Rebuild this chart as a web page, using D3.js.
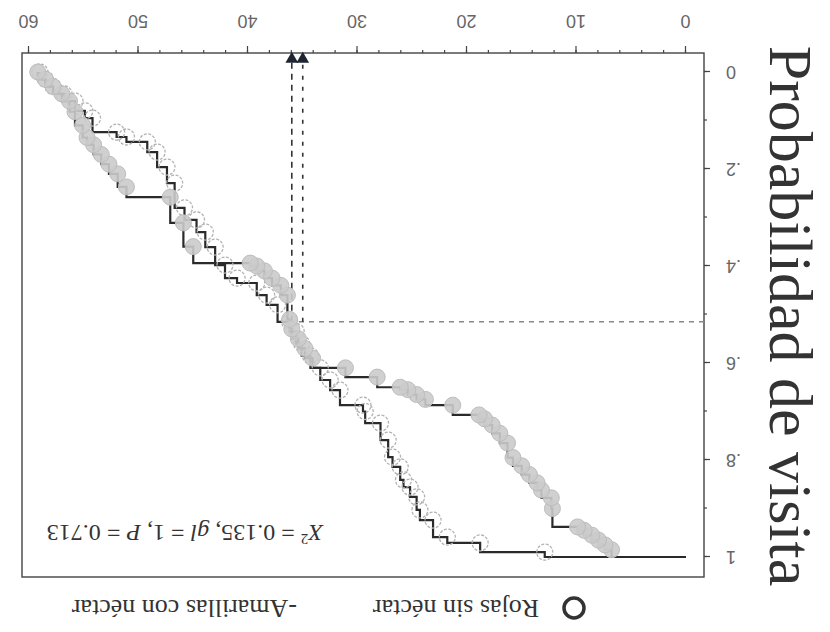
<!DOCTYPE html>
<html>
<head>
<meta charset="utf-8">
<script src="https://cdn.jsdelivr.net/npm/d3@7"></script>
<style>
  body { margin: 0; background: #fff; }
</style>
</head>
<body>
<script>
const xTicks = [0, 10, 20, 30, 40, 50, 60];
const yTicks = [0, 0.2, 0.4, 0.6, 0.8, 1];
const yTickLabels = ["0", ".2", ".4", ".6", ".8", "1"];

const amarillasTime = [6.8, 7.4, 8.0, 8.6, 9.3, 9.9, 12.2, 12.3, 13.2, 13.6, 14.3, 15.0, 15.8, 16.3, 17.0, 17.7, 18.4, 18.9,
  21.3, 23.8, 24.6, 25.4, 26.1, 28.2, 31.1, 34.1, 34.8, 35.4, 36.0, 36.2, 36.4, 37.0, 37.8, 38.5, 39.2, 39.8,
  45.0, 45.9, 47.1, 51.1, 51.9, 52.7, 53.4, 54.1, 54.7, 55.1, 55.8, 56.3, 57.0, 57.8, 58.5, 59.2];
const amarillasProb = [.985, .975, .965, .955, .945, .938, .90, .878, .862, .847, .83, .812, .795, .765, .745, .728, .715, .707,
  .687, .675, .665, .655, .65, .629, .61, .59, .57, .55, .53, .51, .46, .44, .425, .41, .40, .394,
  .36, .311, .258, .237, .21, .19, .17, .15, .135, .11, .082, .06, .045, .03, .015, 0];

const rojasTime = [12.9, 18.8, 21.8, 23.1, 24.3, 24.6, 25.2, 25.8, 26.1, 26.8, 27.2, 27.9, 29.3, 29.5, 31.6, 32.5,
  33.4, 34.3, 35.1, 35.6, 36.2, 37.3, 38.3, 39.2, 41.0, 42.1, 43.0, 43.9, 44.7, 45.8, 46.7, 47.4, 48.3, 49.2,
  51.1, 52.0, 54.2, 54.9, 55.8, 56.8, 57.8, 58.5, 59.0];
const rojasProb = [.99, .971, .959, .924, .903, .876, .856, .841, .814, .794, .759, .724, .70, .687, .656, .635,
  .61, .585, .56, .535, .515, .48, .46, .435, .425, .398, .361, .33, .305, .28, .229, .196, .165, .144,
  .134, .124, .095, .08, .06, .045, .03, .015, 0];

const medianTimes = [36.0, 35.0];
const medianProb = 0.515;

const W = 830, H = 632;
const box = {left: 126, right: 808, top: 55, bottom: 579};
const serif = "'Liberation Serif', 'Times New Roman', serif";

const svg = d3.select("body").append("svg")
    .attr("width", W)
    .attr("height", H);

// the scanned figure is upside down, so draw it normally and turn it
const g = svg.append("g").attr("transform", `rotate(180,${W / 2},${H / 2})`);

const x = d3.scaleLinear().domain([0, 60]).range([144, 801]);
const y = d3.scaleLinear().domain([0, 1]).range([560, 75]);

// frame
g.append("rect")
    .attr("x", box.left).attr("y", box.top)
    .attr("width", box.right - box.left).attr("height", box.bottom - box.top)
    .attr("fill", "none").attr("stroke", "#444").attr("stroke-width", 1.4);

// x axis, minor then major
g.append("g").attr("transform", `translate(0,${box.bottom})`)
    .call(d3.axisBottom(x).ticks(30).tickSize(3).tickFormat(""))
    .call(s => s.select(".domain").remove());
const xAxis = g.append("g").attr("transform", `translate(0,${box.bottom})`)
    .call(d3.axisBottom(x).tickValues(xTicks).tickSize(7).tickPadding(18));
xAxis.select(".domain").remove();

// y axis
g.append("g").attr("transform", `translate(${box.left},0)`)
    .call(d3.axisLeft(y).ticks(10).tickSize(3).tickFormat(""))
    .call(s => s.select(".domain").remove());
const yAxis = g.append("g").attr("transform", `translate(${box.left},0)`)
    .call(d3.axisLeft(y).tickValues(yTicks).tickSize(6).tickPadding(16)
        .tickFormat((d, i) => yTickLabels[i]));
yAxis.select(".domain").remove();

g.selectAll(".tick line").attr("stroke", "#444").attr("stroke-width", 1.2);
g.selectAll(".tick text")
    .attr("font-family", "'Liberation Sans Narrow', 'Liberation Sans', sans-serif")
    .attr("font-size", 18)
    .attr("fill", "#666");

// median guides
g.append("line")
    .attr("x1", box.left).attr("x2", x(medianTimes[0]))
    .attr("y1", y(medianProb)).attr("y2", y(medianProb))
    .attr("stroke", "#888").attr("stroke-width", 1.6).attr("stroke-dasharray", "5,5");
medianTimes.forEach((m, i) => {
    g.append("line")
        .attr("x1", x(m)).attr("x2", x(m))
        .attr("y1", y(medianProb)).attr("y2", box.bottom)
        .attr("stroke", "#333").attr("stroke-width", 1.6)
        .attr("stroke-dasharray", i === 0 ? "6,5" : "4,7");
    g.append("path")
        .attr("d", d3.symbol().type(d3.symbolTriangle).size(70)())
        .attr("transform", `translate(${x(m)},${box.bottom - 6}) rotate(180)`)
        .attr("fill", "#1f2530");
});

// step curves
const stepLine = d3.line()
    .x(d => x(d[0]))
    .y(d => y(d[1]))
    .curve(d3.curveStepAfter);

const amarillas = amarillasTime.map((t, i) => [t, amarillasProb[i]]);
const rojas = rojasTime.map((t, i) => [t, rojasProb[i]]);

[rojas, amarillas].forEach(pts => {
    g.append("path")
        .datum([[0, 1]].concat(pts))
        .attr("d", stepLine)
        .attr("fill", "none")
        .attr("stroke", "#2a2a2a")
        .attr("stroke-width", 2.2);
});

// markers
g.selectAll(".rojas").data(rojas).enter().append("circle")
    .attr("class", "rojas")
    .attr("cx", d => x(d[0])).attr("cy", d => y(d[1]))
    .attr("r", 8)
    .attr("fill", "none")
    .attr("stroke", "#b3b3b3")
    .attr("stroke-width", 1.3)
    .attr("stroke-dasharray", "3,1.5");

g.selectAll(".amarillas").data(amarillas).enter().append("circle")
    .attr("class", "amarillas")
    .attr("cx", d => x(d[0])).attr("cy", d => y(d[1]))
    .attr("r", 8)
    .attr("fill", "#cbcbcb")
    .attr("fill-opacity", 0.9)
    .attr("stroke", "#bdbdbd")
    .attr("stroke-width", 1);

// statistics
const stat = g.append("text")
    .attr("x", 507).attr("y", 107)
    .attr("font-family", serif)
    .attr("font-size", 24)
    .attr("fill", "#333");
stat.append("tspan").attr("font-style", "italic").text("X");
stat.append("tspan").attr("font-size", 15).attr("dy", -9).text("2");
stat.append("tspan").attr("dy", 9).text(" = 0.135, ");
stat.append("tspan").attr("font-style", "italic").text("gl");
stat.append("tspan").text(" = 1, ");
stat.append("tspan").attr("font-style", "italic").text("P");
stat.append("tspan").text(" = 0.713");

// legend
g.append("circle")
    .attr("cx", 256).attr("cy", 24).attr("r", 10)
    .attr("fill", "#fff").attr("stroke", "#333").attr("stroke-width", 3.5);
g.append("text")
    .attr("x", 291).attr("y", 32)
    .attr("font-family", serif)
    .attr("font-size", 26).attr("fill", "#333")
    .text("Rojas sin néctar");
g.append("text")
    .attr("x", 533).attr("y", 32)
    .attr("font-family", serif)
    .attr("font-size", 26).attr("fill", "#333")
    .text("-Amarillas con néctar");

// y title
g.append("text")
    .attr("transform", "translate(60,316) rotate(-90)")
    .attr("text-anchor", "middle")
    .attr("font-family", serif)
    .attr("font-size", 62)
    .attr("fill", "#333")
    .text("Probabilidad de visita");
</script>
</body>
</html>
